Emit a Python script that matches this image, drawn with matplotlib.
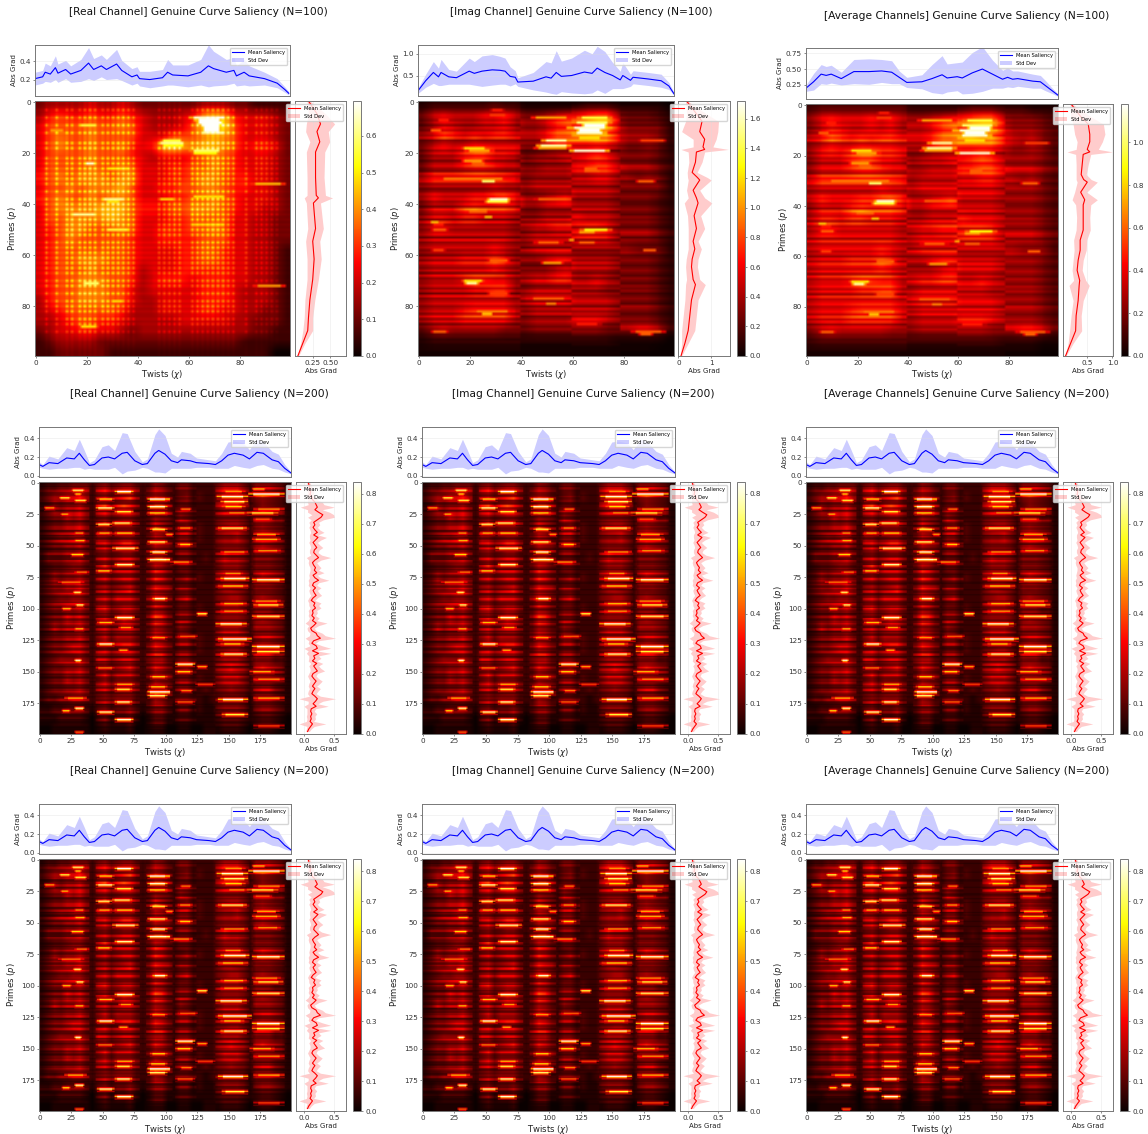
#!/usr/bin/env python3
"""Genuine curve saliency grid: 3 channels, N=100 and N=200 (twice)."""

import matplotlib

matplotlib.use("Agg")
import matplotlib.pyplot as plt
import numpy as np

W, H = 1148, 1134

# ---- N=100 coarse saliency, one digit per 4x4 block
REAL100_BASE = [
    "2333343343222222333221111",
    "3565565565433345898544432",
    "4666676676433346999644432",
    "4676676666444666787644432",
    "4676676675458987887645542",
    "4666676665434445676544432",
    "4666676676444556676544432",
    "5676777677444556776554432",
    "4667677786445566776554432",
    "5676676776444556676544432",
    "4677778886555667776544332",
    "4667777876444556666443322",
    "4567766676445556676443322",
    "4567666665445555666443322",
    "4566666665444455665443321",
    "4566777665444455665443321",
    "4566676665344455555443321",
    "4566777665345554555443321",
    "4566777664344444555433321",
    "3566777664334444555433321",
    "3456666653334444554433221",
    "3345665543333344444332221",
    "2344554432333333333332211",
    "1233332222222222222211111",
    "1122222111111111111111100",
]
IMAG100_BASE = [
    "1222222322111111222111110",
    "2454445564334566788433321",
    "2465445564334677899533331",
    "3465454554445778888544431",
    "2454566555446887787533431",
    "2444677554233344565333321",
    "2444566544334445566433321",
    "3555555554344445566443431",
    "3444444544344444444333331",
    "3544455675334564444333321",
    "2444676665334444444333321",
    "3554554443334445444333321",
    "3554444443344555665333321",
    "3444444443344445555333321",
    "3444444543344444444443331",
    "3444555653334554444333321",
    "3444444543333454444333321",
    "3444566553344554454333321",
    "3444455663344444443333321",
    "3444444443455554444333321",
    "3444566664344444444333321",
    "3444555553344445554333321",
    "2454444433344444443334431",
    "1222222222222222222111110",
    "1111111111111111111111100",
]
AVG100_BASE = [
    "2333333333222222333222111",
    "3565556564445677899544432",
    "3576556564445788999644432",
    "4576565665556889989654532",
    "3565677665558998898644542",
    "3555788665344455676444432",
    "3555677655445556677544432",
    "4666666665455556677554532",
    "4555555655455555555444432",
    "4655566786445675555444432",
    "3555787776445555555444432",
    "4665665554445556555444432",
    "4665555554455666776444432",
    "4555555554455556666444432",
    "4555555654455555555554442",
    "4555666764445665555444432",
    "4555555654444565555444432",
    "4555677664455665565444432",
    "4555566774455555554444432",
    "4555555554566665555444432",
    "4555677775455555555444432",
    "4555666664455556665444432",
    "3565555544455555554445542",
    "2333333333333333333222211",
    "1111111111111111111111100",
]

# bright spots: prime, first twist, last twist, share of colour range
REAL100_BANDS = [
    (6, 60, 76, .95), (7, 62, 74, 1), (8, 63, 74, 1), (9, 65, 73, 1), (10, 65, 73, 1),
    (11, 65, 73, 1), (12, 63, 76, .9), (15, 49, 58, .8), (16, 48, 59, .9), (17, 48, 60, .75),
    (19, 60, 74, .85), (20, 61, 72, .75), (38, 26, 36, .9), (39, 27, 34, .7), (41, 28, 33, .6),
    (44, 13, 25, .9), (50, 27, 37, .8), (26, 27, 38, .7), (71, 18, 26, .85), (88, 17, 25, .7),
    (24, 20, 23, .95), (32, 84, 98, .65), (72, 85, 98, .6), (48, 60, 76, .65), (37, 60, 76, .7),
    (38, 48, 55, .7), (11, 5, 12, .6), (9, 17, 25, .8), (78, 30, 34, .7),
]
CHANNEL100_BANDS = [
    (6, 62, 76, .8), (8, 60, 76, .85), (10, 58, 76, .95), (12, 60, 74, .95), (14, 62, 72, .7),
    (9, 64, 74, 1), (11, 62, 72, 1), (6, 44, 60, .6), (15, 48, 60, .9), (17, 46, 60, .9),
    (18, 45, 60, .6), (19, 59, 75, .95), (18, 17, 27, .7), (19, 18, 30, .6), (23, 17, 26, .6),
    (24, 20, 27, .5), (30, 5, 38, .55), (31, 25, 30, .85), (38, 27, 36, .95), (39, 26, 36, .8),
    (42, 21, 28, .55), (43, 19, 28, .5), (45, 26, 29, .65), (47, 5, 8, .65), (48, 5, 11, .4),
    (50, 5, 12, .5), (50, 63, 76, .75), (51, 62, 70, .6), (38, 45, 60, .5), (5, 27, 35, .45),
    (3, 28, 34, .4), (7, 8, 12, .4), (11, 5, 9, .5), (55, 45, 57, .5), (54, 59, 61, .6),
    (55, 62, 70, .5), (58, 5, 11, .45), (58, 88, 93, .5), (31, 85, 93, .5), (62, 27, 36, .5),
    (63, 48, 57, .6), (70, 17, 26, .7), (71, 18, 24, .9), (75, 27, 36, .45), (77, 42, 60, .5),
    (79, 49, 55, .55), (82, 20, 38, .55), (83, 25, 29, .65), (87, 60, 72, .4), (90, 5, 12, .5),
    (90, 83, 97, .5), (91, 86, 92, .5), (27, 64, 72, .5), (26, 64, 71, .5), (15, 86, 97, .45),
]
REAL_DOT_TWISTS = [4, 8, 12, 14, 17, 19, 21, 23, 26, 28, 30, 32, 34, 36, 38, 48, 50, 52, 54, 56,
                   61, 63, 65, 67, 69, 71, 73, 75, 77, 82, 86, 88, 90, 92, 94]
REAL_DOT_PRIMES = [3, 6, 9, 12, 16, 18, 22, 24, 26, 28, 30, 32, 35, 38, 40, 42, 44, 46, 48, 50,
                   52, 55, 57, 59, 61, 63, 65, 67, 70, 72, 75, 78, 80, 82, 85, 87, 90]
# streak strength per prime for the imag / average panels
CHANNEL100_GROUPS = [(0, 40), (40, 60), (60, 79), (79, 100)]
CHANNEL100_STREAKS = [
    "2334565453546573456464535643756745346564"
    "5375463745456374564536475463745564637456"
    "45647463544332322211",
    "1223454565456553434235463454543546443575"
    "6534536475536464537535643545647534645636"
    "35463454343222211111",
    "1334555654654656434245645656435453564534"
    "5463564563564635453435464643535645354565"
    "36454653434322221111",
    "1233434343544545434345434764345345434543"
    "3454354543576354344534543454354354534543"
    "65434545764322211100",
]

# ---- N=200 coarse saliency, one digit per 8 primes x 5 twists
GRID200_BASE = [
    "1223344424534553236532442222466642555431",
    "1233445324534563246532452322466742565431",
    "1243445325635653236642442222466642465431",
    "1233545324534553236542542222455542555331",
    "1233445324635553237532452322456642565431",
    "1234455325534553236532552322455642455431",
    "1233445324534663236542442222455542565431",
    "1333445324534553246632442232465542555431",
    "1233455324635553236532442222466642555431",
    "1243445324534553236532342322456642465431",
    "1233445324534563236542442222466542555431",
    "1234455324535553236532452222456642565431",
    "1233445325634553236532442322466642555331",
    "1233545324534653237632442222455542565431",
    "1243445324534553236532542222466642555431",
    "1233445324635553236532552322455542455431",
    "1233455324534553236532442322456642565431",
    "1234445325534553246632442222466642555331",
    "1233445324534563236532452222456542565431",
    "1233545324635553236542442322466642555431",
    "1233445324534553236532442232456542455321",
    "1223344323434442225422332212344431444321",
    "1122333213423342124421331211344431344321",
    "1112222102312231013311221111233321233210",
    "0011111101211120012200110011122210122100",
]
# streak strength inside each group of twists, one digit per 2 primes
GROUP_TWISTS = [(0, 40), (45, 80), (85, 106), (108, 125), (140, 167), (170, 195)]
GROUP_STREAKS = [
    "3458578744747763477374384634743743447357"
    "7475834585743745748345735747345844574357"
    "43574483345836334333",
    "3458448348437534843384358384347438374374"
    "3547347435744384737435458437437437437435"
    "74734548344834734332",
    "3345348348348343538345348438348345374374"
    "3573458437345734734547345743734537435734"
    "57388345734734363322",
    "3453343433473437347373438734633473343374"
    "3373347334347337343347347334734733473348"
    "34733473437434733433",
    "3457484487437434448453454343734634347483"
    "4734344374373443843634837343834363643636"
    "43433483463473435332",
    "3473483343477347343473473457334334347348"
    "4343344747343834454347344843743447373474"
    "34734473456343343632",
]
GRID200_BANDS = [
    (6, 26, 36, .85), (7, 60, 75, 1), (12, 16, 25, .8), (9, 28, 34, .7), (14, 28, 38, .8),
    (13, 46, 60, .7), (13, 86, 102, 1), (20, 4, 13, .6), (20, 45, 60, .9), (19, 86, 102, .95),
    (23, 60, 75, .8), (24, 86, 102, .7), (25, 17, 24, .65), (33, 45, 58, .85), (32, 58, 74, .85),
    (37, 88, 102, .8), (40, 46, 58, .65), (40, 60, 76, .7), (40, 28, 36, .6), (46, 28, 37, .65),
    (47, 86, 102, .85), (52, 58, 79, .9), (55, 88, 102, .95), (57, 25, 36, .7), (61, 86, 103, .95),
    (65, 60, 76, .9), (70, 45, 58, .7), (71, 28, 40, .55), (79, 15, 36, .55), (87, 27, 34, .85),
    (92, 90, 102, .95), (97, 29, 36, .85), (100, 18, 26, .65), (107, 60, 76, .95), (111, 46, 60, .65),
    (116, 28, 36, .65), (115, 63, 75, .6), (123, 88, 102, .6), (128, 46, 60, .95), (133, 63, 71, .65),
    (141, 28, 34, .95), (147, 45, 60, .55), (154, 88, 102, .7), (162, 87, 102, .7), (160, 60, 76, .65),
    (164, 60, 74, .8), (166, 86, 103, 1), (169, 86, 102, .85), (171, 20, 38, .65), (174, 60, 74, .9),
    (179, 28, 36, .9), (181, 18, 25, .7), (182, 46, 60, .9), (188, 60, 75, .95), (198, 28, 36, .5),
    (11, 141, 166, .95), (9, 166, 195, 1), (5, 169, 180, .65), (7, 145, 164, .6), (15, 144, 166, .85),
    (19, 145, 164, .7), (24, 149, 165, .6), (24, 165, 190, .8), (21, 170, 195, .6), (21, 112, 121, .55),
    (29, 170, 185, .5), (36, 142, 165, .85), (36, 110, 122, .6), (41, 170, 191, .65), (45, 169, 192, .65),
    (49, 110, 122, .7), (55, 144, 166, .6), (54, 171, 192, .6), (63, 104, 122, .6), (72, 146, 162, .6),
    (76, 144, 167, .95), (77, 169, 195, .95), (82, 142, 166, .7), (94, 169, 192, .6), (97, 170, 194, .8),
    (96, 144, 165, .65), (102, 144, 165, .6), (104, 125, 134, .8), (106, 169, 195, .85), (112, 140, 165, .95),
    (124, 142, 169, 1), (122, 110, 126, .5), (128, 144, 163, .7), (130, 169, 195, 1), (134, 169, 195, .8),
    (136, 144, 165, .9), (144, 108, 124, .95), (146, 125, 134, .6), (150, 108, 122, .7), (150, 167, 187, .65),
    (156, 170, 195, .6), (160, 124, 140, .45), (172, 142, 166, 1), (171, 170, 195, .65), (166, 100, 104, .95),
    (184, 145, 166, .8), (165, 112, 122, .55), (174, 108, 124, .5), (13, 100, 104, .7), (61, 100, 104, .85),
    (41, 100, 107, .6), (193, 170, 195, .45),
]
DARK_PRIMES200 = [3, 10, 16, 17, 22, 27, 28, 31, 34, 42, 44, 49, 53, 58, 59, 63, 67, 69, 73, 79, 80,
                  85, 89, 95, 99, 101, 104, 109, 113, 118, 121, 126, 131, 132, 138, 142, 146, 152,
                  155, 158, 161, 163, 167, 170, 176, 178, 183, 186, 190, 194]

# ---- profiles over twists
REAL100_TOP_T = [0, 3, 4, 6, 8, 9, 12, 14, 18, 21, 23, 26, 28, 32, 34, 38, 40, 41, 45, 50, 52, 54,
                 60, 65, 68, 70, 75, 78, 79, 82, 84, 90, 95, 98, 99.5]
REAL100_TOP_MEAN = [.21, .23, .28, .26, .33, .27, .31, .26, .30, .38, .31, .35, .31, .37, .30, .23,
                    .25, .21, .20, .22, .28, .25, .24, .28, .35, .32, .28, .30, .24, .28, .24, .21,
                    .16, .09, .05]
REAL100_TOP_STD = [.07, .07, .10, .09, .13, .10, .10, .09, .12, .17, .12, .12, .11, .16, .11, .09,
                   .09, .08, .09, .09, .14, .11, .12, .14, .23, .19, .14, .14, .11, .14, .11, .07,
                   .05, .03, .02]
IMAG100_TOP_T = [0, 3, 6, 8, 9, 12, 15, 20, 22, 25, 29, 32, 34, 36, 38, 39, 45, 50, 52, 54, 56, 60,
                 65, 68, 70, 73, 76, 79, 80, 83, 84, 90, 95, 98, 100]
IMAG100_TOP_MEAN = [.15, .38, .57, .47, .57, .47, .45, .60, .55, .60, .63, .62, .60, .48, .46, .35,
                    .37, .47, .44, .57, .48, .50, .58, .55, .67, .57, .50, .40, .50, .39, .46, .42,
                    .38, .26, .08]
IMAG100_TOP_STD = [.06, .15, .25, .20, .30, .17, .15, .30, .27, .35, .35, .32, .30, .22, .15, .10,
                   .20, .35, .35, .50, .35, .40, .50, .45, .50, .48, .30, .20, .30, .14, .15, .15,
                   .15, .08, .03]
AVG100_TOP_T = [0, 3, 6, 8, 10, 14, 19, 25, 30, 34, 37, 40, 46, 50, 54, 56, 60, 62, 66, 70, 74, 78,
                80, 82, 84, 90, 93, 95, 98, 100]
AVG100_TOP_MEAN = [.20, .30, .42, .40, .42, .35, .46, .46, .47, .45, .37, .29, .30, .35, .41, .36,
                   .38, .36, .44, .50, .42, .34, .37, .34, .35, .31, .30, .24, .15, .09]
AVG100_TOP_STD = [.05, .13, .15, .14, .14, .10, .19, .20, .18, .18, .10, .08, .11, .22, .30, .22,
                  .22, .25, .32, .35, .22, .14, .15, .13, .12, .11, .10, .08, .04, .02]
TOP200_T = [0, 3, 8, 15, 22, 28, 32, 36, 40, 44, 50, 55, 60, 66, 70, 76, 82, 86, 92, 95, 100, 105,
            110, 113, 120, 125, 135, 140, 145, 150, 155, 162, 167, 173, 178, 185, 190, 195, 200]
TOP200_MEAN = [.12, .10, .14, .13, .19, .18, .24, .17, .11, .12, .19, .20, .18, .24, .25, .16, .12,
               .13, .24, .27, .23, .16, .14, .17, .16, .14, .13, .12, .16, .22, .24, .22, .18, .25,
               .24, .17, .15, .08, .03]
TOP200_STD = [.03, .02, .07, .05, .11, .09, .15, .10, .03, .05, .12, .13, .09, .22, .20, .10, .03,
              .05, .20, .23, .20, .08, .06, .09, .08, .05, .04, .04, .08, .14, .13, .13, .10, .14,
              .12, .09, .08, .04, .01]

# ---- profiles over primes
REAL100_SIDE_P = [0, 5, 9, 12, 16, 20, 30, 37, 38, 40, 50, 55, 62, 70, 78, 85, 90, 95, 100]
REAL100_SIDE_MEAN = [.19, .31, .36, .31, .35, .29, .29, .30, .33, .26, .29, .25, .27, .25, .21, .19,
                     .18, .11, .04]
REAL100_SIDE_STD = [.02, .12, .20, .16, .14, .13, .12, .13, .20, .10, .11, .10, .10, .08, .07, .06,
                    .07, .03, .01]
IMAG100_SIDE_P = [0, 5, 8, 12, 15, 18, 19, 20, 24, 28, 30, 31, 35, 38, 40, 45, 50, 55, 58, 62, 65,
                  70, 72, 78, 84, 90, 95, 100]
IMAG100_SIDE_MEAN = [.25, .55, .72, .65, .80, .75, .80, .55, .52, .42, .58, .65, .45, .55, .60, .48,
                     .55, .45, .50, .42, .40, .45, .52, .40, .35, .30, .20, .08]
IMAG100_SIDE_STD = [.03, .30, .50, .55, .35, .30, .72, .25, .20, .15, .30, .35, .20, .25, .42, .20,
                    .25, .15, .20, .18, .18, .20, .30, .20, .20, .20, .10, .02]
AVG100_SIDE_P = [0, 5, 8, 12, 15, 18, 19, 20, 24, 28, 30, 31, 35, 38, 40, 45, 50, 54, 58, 62, 66,
                 70, 72, 78, 84, 90, 95, 100]
AVG100_SIDE_MEAN = [.18, .37, .52, .55, .55, .50, .55, .42, .40, .38, .43, .50, .37, .45, .42, .42,
                    .42, .36, .36, .32, .30, .35, .34, .32, .28, .27, .17, .07]
AVG100_SIDE_STD = [.02, .20, .30, .30, .25, .22, .45, .15, .12, .10, .15, .20, .12, .25, .15, .13,
                   .14, .13, .12, .10, .10, .12, .20, .10, .10, .12, .05, .01]
SIDE200_P = np.arange(0, 200, 2)
SIDE200_MEAN = [.07, .08, .09, .10, .11, .10, .13, .14, .18, .20,
                .22, .18, .24, .31, .28, .22, .16, .18, .15, .18,
                .22, .16, .23, .19, .15, .18, .21, .17, .16, .20,
                .24, .18, .14, .16, .19, .17, .21, .15, .18, .24,
                .16, .14, .19, .15, .17, .20, .15, .12, .18, .16,
                .19, .14, .15, .13, .17, .14, .20, .16, .11, .13,
                .20, .22, .27, .16, .13, .20, .22, .14, .24, .16,
                .18, .14, .21, .16, .19, .22, .15, .13, .16, .20,
                .17, .14, .18, .15, .13, .18, .22, .19, .15, .20,
                .12, .11, .13, .11, .12, .10, .14, .11, .08, .06]
SIDE200_STD = [.02, .03, .04, .05, .05, .05, .07, .08, .12, .13,
               .28, .12, .18, .18, .22, .10, .08, .08, .07, .08,
               .11, .07, .14, .09, .07, .08, .10, .08, .07, .09,
               .20, .10, .07, .08, .09, .07, .12, .07, .09, .17,
               .08, .07, .09, .07, .08, .09, .07, .06, .10, .08,
               .09, .07, .07, .06, .08, .07, .18, .08, .06, .07,
               .10, .13, .25, .08, .06, .10, .22, .07, .20, .08,
               .10, .07, .10, .08, .09, .12, .07, .07, .08, .10,
               .09, .07, .09, .08, .07, .09, .30, .12, .08, .20,
               .07, .06, .08, .07, .07, .06, .22, .06, .04, .03]


def box_smooth(grid, k):
    """soften the block edges of a coarse grid"""
    kernel = np.ones(k) / k
    pad = np.pad(grid, k, mode="edge")
    pad = np.apply_along_axis(lambda r: np.convolve(r, kernel, mode="same"), 0, pad)
    pad = np.apply_along_axis(lambda r: np.convolve(r, kernel, mode="same"), 1, pad)
    return pad[k:-k, k:-k]


def build_grid(rows, size, scale, block_p, block_t):
    """digit rows -> saliency matrix, every digit fills one block"""
    grid = np.zeros((size, size))
    for i, row in enumerate(rows):
        for j, ch in enumerate(row):
            grid[i * block_p:(i + 1) * block_p, j * block_t:(j + 1) * block_t] = int(ch) * scale
    return grid


def paint_bands(grid, bands, vmax, thick=False):
    for prime, t0, t1, share in bands:
        level = share * vmax
        inset = (t1 - t0) // 6
        parts = [(prime, t0, t1, .65), (prime, t0 + inset, t1 - inset, 1.0)]
        if thick:
            parts += [(prime - 1, t0, t1, .32), (prime - 1, t0 + inset, t1 - inset, .42),
                      (prime + 1, t0 + inset, t1 - inset, .58), (prime + 2, t0, t1, .28)]
        for p, a, b, k in parts:
            if 0 <= p < grid.shape[0]:
                grid[p, a:b] = np.maximum(grid[p, a:b], level * k)
    return grid


def real100_grid():
    grid = box_smooth(build_grid(REAL100_BASE, 100, 0.05, 4, 4), 5) * 1.05
    grid[:, REAL_DOT_TWISTS] *= 1.1
    grid[REAL_DOT_PRIMES, :] *= 1.1
    grid[np.ix_(REAL_DOT_PRIMES, REAL_DOT_TWISTS)] *= 1.3
    return paint_bands(grid, REAL100_BANDS, 0.69)


def channel100_grid(rows, scale, vmax, strength):
    grid = box_smooth(build_grid(rows, 100, scale, 4, 4), 5)
    for (t0, t1), streaks in zip(CHANNEL100_GROUPS, CHANNEL100_STREAKS):
        for i, ch in enumerate(streaks):
            grid[i, t0:t1] *= 1 + (int(ch) / 4 - 1) * strength
    return paint_bands(grid, CHANNEL100_BANDS, vmax)


def grid200():
    grid = box_smooth(build_grid(GRID200_BASE, 200, 0.03, 8, 5), 5)
    for (t0, t1), streaks in zip(GROUP_TWISTS, GROUP_STREAKS):
        for i, ch in enumerate(streaks):
            grid[i * 2:i * 2 + 2, t0:t1] *= int(ch) / 3.6
    grid[DARK_PRIMES200, :] *= 0.7
    return paint_bands(grid, GRID200_BANDS, 0.84, thick=True)


def px_axes(fig, x0, y0, x1, y1):
    """axes from pixel box (top left origin)"""
    return fig.add_axes([x0 / W, 1 - y1 / H, (x1 - x0) / W, (y1 - y0) / H])


def style(ax):
    for s in ax.spines.values():
        s.set_linewidth(0.7)
        s.set_color("#777777")
    ax.tick_params(labelsize=5.2, length=1.5, width=0.4, pad=1.5, colors="#333333")


def draw_panel(fig, p):
    x0, x1 = p["x"]
    top_y0, top_y1 = p["top_y"]
    y0, y1 = p["heat_y"]
    sx0, sx1 = p["side_x"]
    cx0, cx1 = p["cbar_x"]
    size = p["size"]

    fig.text(p["title_x"] / W, 1 - p["title_y"] / H, p["title"],
             ha="center", va="center", fontsize=7.7, color="#111111")

    # 上のプロファイル
    ax_top = px_axes(fig, x0, top_y0, x1, top_y1)
    t, mean, std = [np.array(v) for v in p["top"]]
    ax_top.plot(t, mean, color="blue", lw=0.8, label="Mean Saliency")
    ax_top.fill_between(t, mean - std, mean + std, color="blue", alpha=0.2, lw=0, label="Std Dev")
    ax_top.set_xlim(0, size)
    ax_top.set_ylim(*p["top_lim"])
    ax_top.set_xticks([])
    ax_top.set_yticks(p["top_ticks"])
    ax_top.set_yticklabels(p["top_labels"])
    ax_top.set_ylabel("Abs Grad", fontsize=5, labelpad=2, color="#222222")
    ax_top.grid(axis="y", color="#dddddd", lw=0.4, alpha=0.6)
    ax_top.legend(loc="upper right", fontsize=3.7, borderpad=0.5, labelspacing=0.5, handlelength=2.2)
    style(ax_top)

    # ヒートマップ
    ax = px_axes(fig, x0, y0, x1, y1)
    im = ax.imshow(p["grid"], cmap="hot", vmin=0, vmax=p["vmax"], aspect="auto",
                   interpolation="bilinear")
    ticks = np.arange(0, size, 20 if size == 100 else 25)
    ax.set_xticks(ticks)
    ax.set_yticks(ticks)
    ax.set_xlabel(r"Twists ($\chi$)", fontsize=6.1, labelpad=1.5, color="#222222")
    ax.set_ylabel(r"Primes ($p$)", fontsize=6.1, labelpad=2, color="#222222")
    style(ax)

    # 右のプロファイル
    ax_side = px_axes(fig, sx0, y0, sx1, y1)
    prime, mean, std = [np.array(v) for v in p["side"]]
    ax_side.plot(mean, prime, color="red", lw=0.8, label="Mean Saliency")
    ax_side.fill_betweenx(prime, mean - std, mean + std, color="red", alpha=0.2, lw=0, label="Std Dev")
    ax_side.set_ylim(size, 0)
    ax_side.set_xlim(*p["side_lim"])
    ax_side.set_yticks([])
    ax_side.set_xticks(p["side_ticks"])
    ax_side.set_xticklabels(p["side_labels"])
    ax_side.set_xlabel("Abs Grad", fontsize=5, labelpad=1.5, color="#222222")
    ax_side.grid(axis="x", color="#dddddd", lw=0.4, alpha=0.6)
    ax_side.legend(loc="upper right", fontsize=3.7, borderpad=0.5, labelspacing=0.5, handlelength=2.2)
    style(ax_side)

    # カラーバー
    cax = px_axes(fig, cx0, y0, cx1, y1)
    cb = fig.colorbar(im, cax=cax)
    cb.set_ticks(p["cbar_ticks"])
    cb.outline.set_linewidth(0.7)
    cb.outline.set_edgecolor("#777777")
    cax.tick_params(labelsize=5.2, length=1.5, width=0.4, pad=1.5, colors="#333333")


def main():
    fig = plt.figure(figsize=(W / 100, H / 100), dpi=100, facecolor="white")

    common100 = {"size": 100, "heat_y": (101, 356), "top_y": (45, 96), "title_y": 12}
    panels = [
        dict(common100, title="[Real Channel] Genuine Curve Saliency (N=100)", title_x=198, x=(35, 290),
             side_x=(295, 346), cbar_x=(353, 361), vmax=0.695, grid=real100_grid(),
             top=(REAL100_TOP_T, REAL100_TOP_MEAN, REAL100_TOP_STD), top_lim=(0.02, 0.578),
             top_ticks=[0.2, 0.4], top_labels=["0.2", "0.4"],
             side=(REAL100_SIDE_P, REAL100_SIDE_MEAN, REAL100_SIDE_STD), side_lim=(0.0, 0.72),
             side_ticks=[0.25, 0.5], side_labels=["0.25", "0.50"],
             cbar_ticks=[0, .1, .2, .3, .4, .5, .6]),
        dict(common100, title="[Imag Channel] Genuine Curve Saliency (N=100)", title_x=581, x=(418, 674),
             side_x=(678, 730), cbar_x=(737, 745), vmax=1.72,
             grid=channel100_grid(IMAG100_BASE, 0.09, 1.72, 1.0),
             top=(IMAG100_TOP_T, IMAG100_TOP_MEAN, IMAG100_TOP_STD), top_lim=(0.03, 1.2),
             top_ticks=[0.5, 1.0], top_labels=["0.5", "1.0"],
             side=(IMAG100_SIDE_P, IMAG100_SIDE_MEAN, IMAG100_SIDE_STD), side_lim=(-0.01, 1.57),
             side_ticks=[0, 1], side_labels=["0", "1"],
             cbar_ticks=[0, .2, .4, .6, .8, 1.0, 1.2, 1.4, 1.6]),
        dict(common100, title="[Average Channels] Genuine Curve Saliency (N=100)", title_x=967, x=(806, 1058),
             top_y=(48, 99), heat_y=(104, 356), title_y=16,
             side_x=(1063, 1113), cbar_x=(1121, 1128), vmax=1.18,
             grid=channel100_grid(AVG100_BASE, 0.062, 1.18, 0.8),
             top=(AVG100_TOP_T, AVG100_TOP_MEAN, AVG100_TOP_STD), top_lim=(0.03, 0.83),
             top_ticks=[0.25, 0.5, 0.75], top_labels=["0.25", "0.50", "0.75"],
             side=(AVG100_SIDE_P, AVG100_SIDE_MEAN, AVG100_SIDE_STD), side_lim=(0.02, 1.01),
             side_ticks=[0.5, 1.0], side_labels=["0.5", "1.0"],
             cbar_ticks=[0, .2, .4, .6, .8, 1.0]),
    ]

    data200 = grid200()
    columns200 = [
        ("[Real Channel] Genuine Curve Saliency (N=200)", 199, (39, 291), (296, 346), (353, 361)),
        ("[Imag Channel] Genuine Curve Saliency (N=200)", 583, (422, 675), (680, 730), (737, 745)),
        ("[Average Channels] Genuine Curve Saliency (N=200)", 967, (806, 1058), (1063, 1113), (1120, 1128)),
    ]
    # 2段目と3段目は同じデータ
    for row_y in (0, 377):
        for title, title_x, x, side_x, cbar_x in columns200:
            panels.append(dict(
                size=200, title=title, title_x=title_x, x=x, side_x=side_x, cbar_x=cbar_x,
                top_y=(427 + row_y, 477 + row_y), heat_y=(482 + row_y, 734 + row_y),
                title_y=394 + row_y, vmax=0.84, grid=data200,
                top=(TOP200_T, TOP200_MEAN, TOP200_STD), top_lim=(-0.013, 0.52),
                top_ticks=[0, 0.2, 0.4], top_labels=["0.0", "0.2", "0.4"],
                side=(SIDE200_P, SIDE200_MEAN, SIDE200_STD), side_lim=(-0.13, 0.69),
                side_ticks=[0, 0.5], side_labels=["0.0", "0.5"],
                cbar_ticks=[0, .1, .2, .3, .4, .5, .6, .7, .8],
            ))

    for p in panels:
        draw_panel(fig, p)

    fig.savefig("out.png", dpi=100, facecolor="white")


if __name__ == "__main__":
    main()
